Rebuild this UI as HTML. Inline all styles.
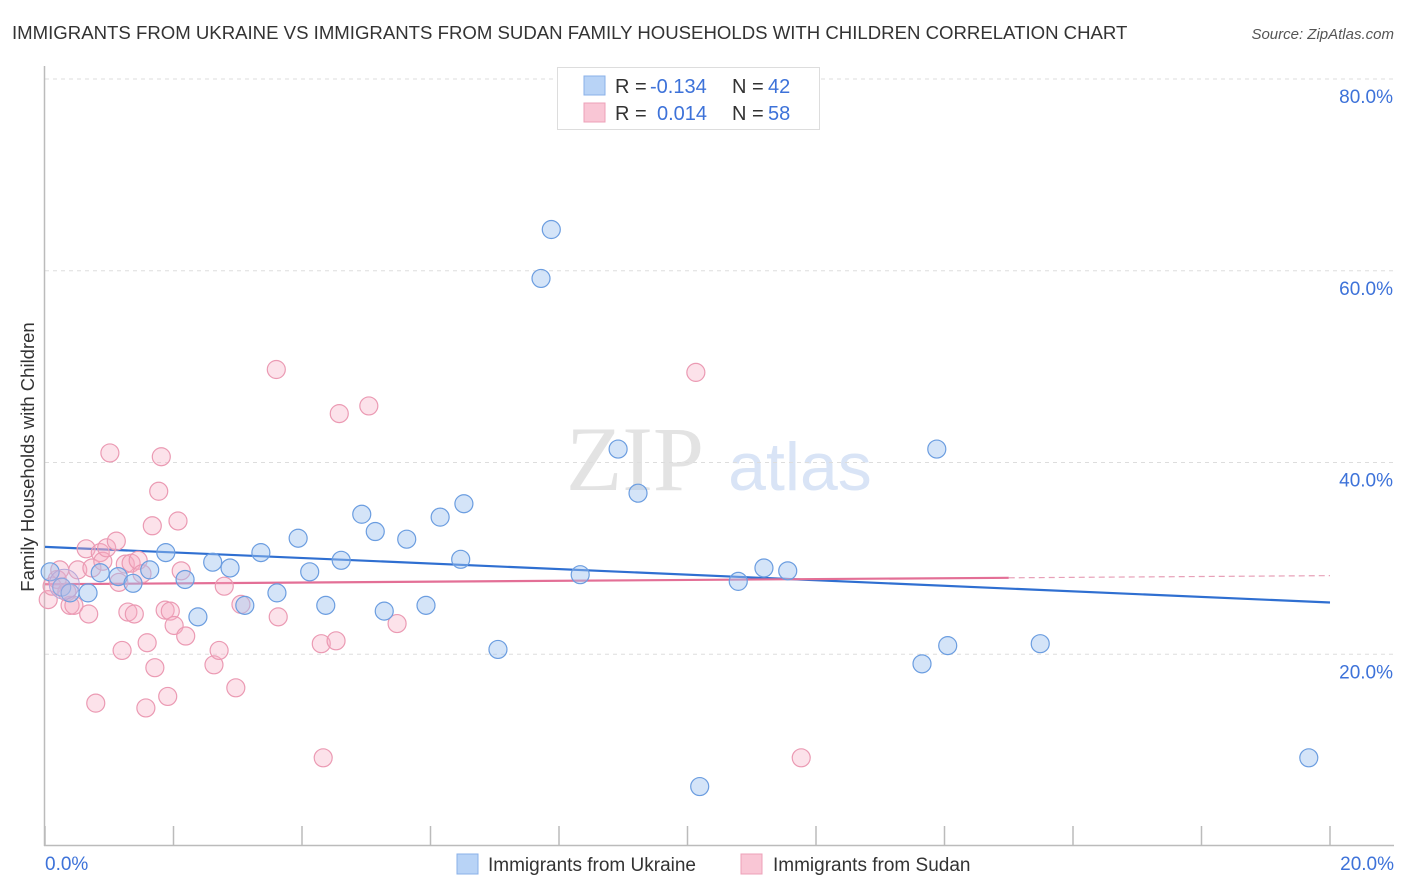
<!DOCTYPE html>
<html><head><meta charset="utf-8"><style>
body{margin:0;background:#fff;font-family:"Liberation Sans",sans-serif;}
svg{display:block}
</style></head><body>
<svg id="chart" width="1406" height="892" xmlns="http://www.w3.org/2000/svg">
<text x="12" y="39" font-size="18.6" fill="#333">IMMIGRANTS FROM UKRAINE VS IMMIGRANTS FROM SUDAN FAMILY HOUSEHOLDS WITH CHILDREN CORRELATION CHART</text>
<text x="1394" y="39" font-size="15" fill="#555" font-style="italic" text-anchor="end">Source: ZipAtlas.com</text>
<text transform="translate(34,457) rotate(-90)" font-size="18.5" fill="#333" text-anchor="middle">Family Households with Children</text>
<g>
<text x="635" y="490" font-size="92" fill="#d8d8d8" font-family="Liberation Serif,serif" text-anchor="middle" opacity="0.7">ZIP</text>
<text x="800" y="490" font-size="68" fill="#c9daf3" text-anchor="middle" opacity="0.7">atlas</text>
</g>
<g id="grid"></g><g id="axes"></g><g id="trend"></g><g id="pts"></g>
<g>
<rect x="557.5" y="67.5" width="262" height="62" fill="#fff" stroke="#ddd"/>
<rect x="584" y="76" width="21" height="19" fill="#b8d3f6" stroke="#8ab0e8"/>
<rect x="584" y="103" width="21" height="19" fill="#f9c6d5" stroke="#eda0b8"/>
<text x="615" y="93" font-size="20" fill="#333">R =</text><text x="650" y="93" font-size="20" fill="#3d72d9">-0.134</text>
<text x="732" y="93" font-size="20" fill="#333">N =</text><text x="768" y="93" font-size="20" fill="#3d72d9">42</text>
<text x="615" y="120" font-size="20" fill="#333">R =</text><text x="657" y="120" font-size="20" fill="#3d72d9">0.014</text>
<text x="732" y="120" font-size="20" fill="#333">N =</text><text x="768" y="120" font-size="20" fill="#3d72d9">58</text>
</g>
<g>
<rect x="457" y="854" width="21" height="20" fill="#b8d3f6" stroke="#8ab0e8"/>
<text x="488" y="871" font-size="19" fill="#333">Immigrants from Ukraine</text>
<rect x="741" y="854" width="21" height="20" fill="#f9c6d5" stroke="#eda0b8"/>
<text x="773" y="871" font-size="19" fill="#333">Immigrants from Sudan</text>
</g>
</svg>
<script>
const ukraineX=[0.08,0.26,0.39,0.67,0.86,1.14,1.37,1.63,1.88,2.18,2.38,2.61,2.88,3.11,3.36,3.61,3.94,4.12,4.37,4.61,4.93,5.14,5.28,5.63,5.93,6.15,6.47,6.52,7.05,7.72,7.88,8.33,8.92,9.23,10.19,10.79,11.19,11.56,13.65,13.88,14.05,15.49,19.67];
const ukraineY=[28.6,27.0,26.4,26.4,28.5,28.1,27.4,28.8,30.6,27.8,23.9,29.6,29.0,25.1,30.6,26.4,32.1,28.6,25.1,29.8,34.6,32.8,24.5,32.0,25.1,34.3,29.9,35.7,20.5,59.2,64.3,28.3,41.4,36.8,6.2,27.6,29.0,28.7,19.0,41.4,20.9,21.1,9.2];
const sudanX=[0.05,0.11,0.19,0.23,0.34,0.39,0.45,0.51,0.64,0.68,0.73,0.79,0.86,0.90,0.96,1.01,1.11,1.15,1.20,1.25,1.29,1.34,1.39,1.45,1.51,1.57,1.59,1.67,1.71,1.77,1.81,1.87,1.91,1.95,2.01,2.07,2.12,2.19,2.63,2.71,2.79,2.97,3.05,3.60,3.63,4.30,4.33,4.53,4.58,5.04,5.48,10.13,11.77];
const sudanY=[25.7,27.1,27.8,28.8,26.5,25.1,25.1,28.8,31.0,24.2,29.0,14.9,30.6,29.7,31.1,41.0,31.8,27.5,20.4,29.4,24.4,29.5,24.2,29.8,28.4,14.4,21.2,33.4,18.6,37.0,40.6,24.6,15.6,24.5,23.0,33.9,28.7,21.9,18.9,20.4,27.1,16.5,25.2,49.7,23.9,21.1,9.2,21.4,45.1,45.9,23.2,49.4,9.2];
const ukraineTrend=[31.2,25.4];
const sudanTrend=[27.3,28.2];
const yTicks=[20,40,60,80];
const yTickLabels=["20.0%","40.0%","60.0%","80.0%"];
const xTicks=[0,2,4,6,8,10,12,14,16,18,20];
const NS="http://www.w3.org/2000/svg";
const X=v=>45+v/20*1285, Y=v=>846-v/20*191.75;
function mk(tag,attrs,parent){const e=document.createElementNS(NS,tag);for(const k in attrs)e.setAttribute(k,attrs[k]);document.getElementById(parent).appendChild(e);return e;}
yTicks.forEach((t,i)=>{
 const l=mk('line',{x1:45,x2:1394,y1:Y(t),y2:Y(t),stroke:'#ddd','stroke-dasharray':'4,4'},'grid');
 
 
 const tx=mk('text',{x:1393,y:Y(t)+24,'font-size':19,fill:'#3d72d9','text-anchor':'end'},'grid');
 tx.textContent=yTickLabels[i];
 
 
});
const ay=mk('line',{x1:44.5,x2:44.5,y1:66,y2:846,stroke:'#bbb','stroke-width':1.5},'axes');


const ax=mk('line',{x1:44,x2:1394,y1:845.5,y2:845.5,stroke:'#bbb','stroke-width':1.5},'axes');


xTicks.forEach(t=>{const l=mk('line',{x1:X(t),x2:X(t),y1:826,y2:846,stroke:'#bbb','stroke-width':1.5},'axes');
 
 });
const x0=mk('text',{x:45,y:870,'font-size':19,fill:'#3d72d9'},'axes');x0.textContent='0.0%';


const x1=mk('text',{x:1394,y:870,'font-size':19,fill:'#3d72d9','text-anchor':'end'},'axes');x1.textContent='20.0%';


function pts(xs,ys,fill,stroke,name){xs.forEach((x,i)=>{const c=mk('circle',{cx:X(x),cy:Y(ys[i]),r:9,fill:fill,stroke:stroke,'stroke-width':1.2},'pts');
 
 });}
pts(sudanX,sudanY,'rgba(246,172,196,0.35)','#eb9ab3','point-sudan');
pts(ukraineX,ukraineY,'rgba(160,195,240,0.45)','#6b9de0','point-ukraine');
const big=mk('circle',{cx:X(0.3),cy:Y(27.3),r:15,fill:'rgba(200,180,220,0.35)',stroke:'#b8a8d8'},'pts');


const bt=mk('line',{x1:X(0),y1:Y(ukraineTrend[0]),x2:X(20),y2:Y(ukraineTrend[1]),stroke:'#2f6fd1','stroke-width':2.2},'trend');


const sv=t=>sudanTrend[0]+(sudanTrend[1]-sudanTrend[0])*t/20;
const pt=mk('line',{x1:X(0),y1:Y(sv(0)),x2:X(15),y2:Y(sv(15)),stroke:'#e36f96','stroke-width':2.2},'trend');


const pd=mk('line',{x1:X(15),y1:Y(sv(15)),x2:X(20),y2:Y(sv(20)),stroke:'#e8a0b8','stroke-width':1.2,'stroke-dasharray':'6,4'},'trend');


</script>
</body></html>
